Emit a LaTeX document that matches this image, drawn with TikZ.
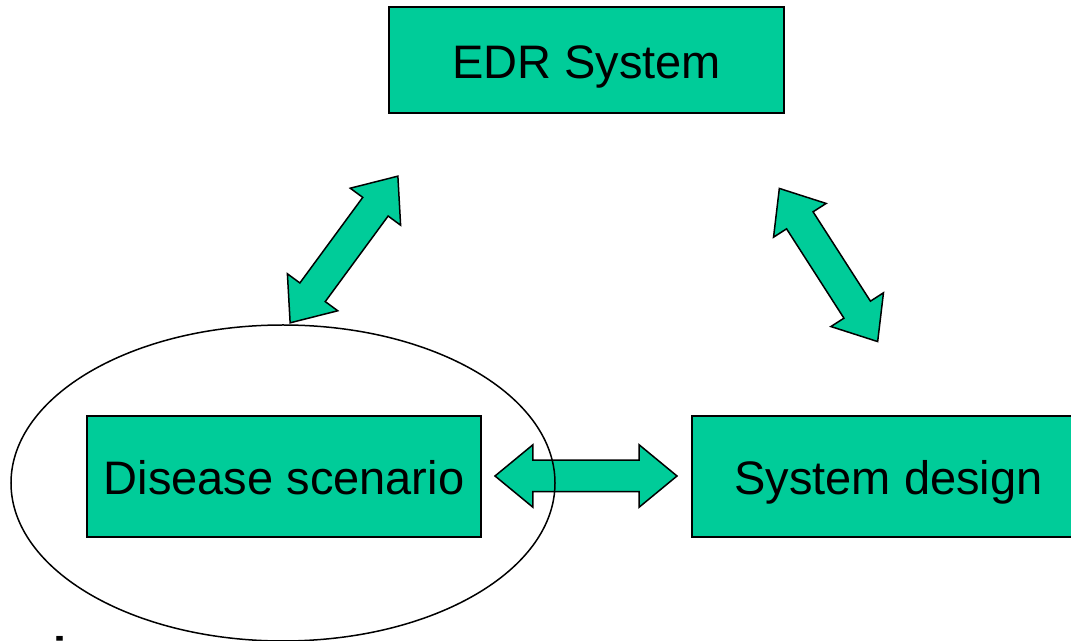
\documentclass[tikz,border=0pt]{standalone}
\usepackage{fontspec}
\setmainfont{Liberation Sans}
\usetikzlibrary{shapes.arrows,shapes.geometric}
\definecolor{slidegreen}{RGB}{0,204,153}

\begin{document}
\begin{tikzpicture}[x=1pt,y=1pt,
	block/.style={draw=black, line width=1.5pt, fill=slidegreen, minimum width=394pt, minimum height=121pt,
		inner sep=0pt, text height=37pt, text depth=0pt, font=\fontsize{47}{56}\selectfont},
	link/.style={draw=black, line width=1.5pt, fill=slidegreen, shape=double arrow, minimum height=182pt,
		inner xsep=0pt, inner ysep=15pt, text height=0pt, text depth=0pt,
		double arrow head extend=15.5pt, double arrow tip angle=79, outer sep=0pt}]
	\useasboundingbox (0,0) rectangle (1071,640);
	\clip (0,0) rectangle (1071,640);
	\node[block, minimum width=395pt, minimum height=106pt] (edr) at (586.5,580) {EDR System};
	\node[block] (disease) at (284,163.5) {Disease scenario};
	\node[block, minimum width=393pt] (design) at (888.5,163.5) {System design};
	\node[link] (edrdisease) at (344,390.5) [rotate=53.7] {};
	\node[link] (edrdesign) at (828.5,375) [rotate=-57.3] {};
	\node[link] (diseasedesign) at (586,164) {};
	\node[draw=black, line width=1.5pt, ellipse, minimum width=544pt, minimum height=316pt, inner sep=0pt] (scope) at (283,157) {};
	\node[anchor=base west, inner sep=0pt, font=\fontsize{47}{56}\selectfont\bfseries] (cut) at (12,-30) {mic};
\end{tikzpicture}
\end{document}
